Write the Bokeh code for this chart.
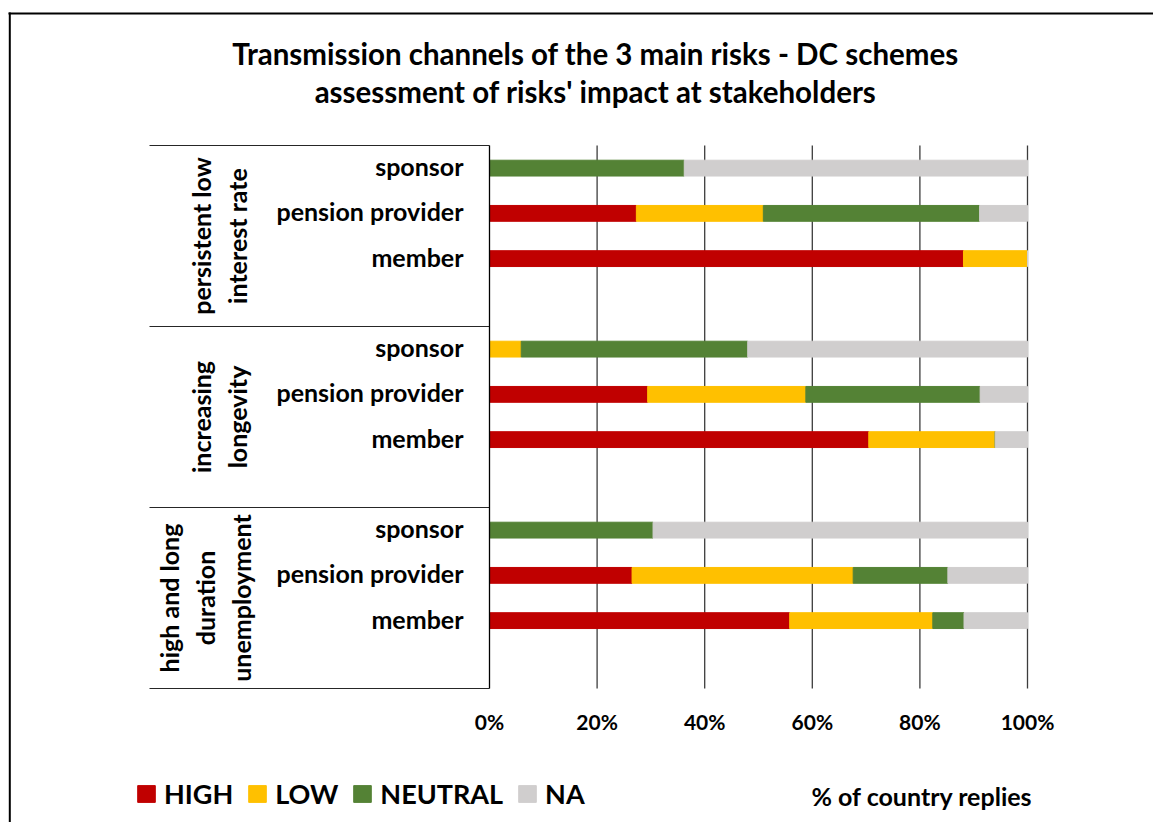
import math
from bokeh.plotting import figure
from bokeh.models import Range1d, ColumnDataSource, Legend, LegendItem
from bokeh.embed import file_html
from bokeh.resources import INLINE
from bokeh.core.properties import value

# ---------------- data ----------------
risks = ["persistent low\ninterest rate", "increasing\nlongevity",
         "high and long\nduration\nunemployment"]
stakeholders = ["sponsor", "pension provider", "member"]
levels = ["HIGH", "LOW", "NEUTRAL", "NA"]
# % of country replies, rows: risk x stakeholder (sponsor, pension provider, member)
high    = [0.0, 27.3, 88.1,   0.0, 29.4, 70.5,   0.0, 26.5, 55.8]
low     = [0.0, 23.6, 11.9,   5.9, 29.4, 23.5,   0.0, 41.1, 26.6]
neutral = [36.2, 40.2, 0.0,  42.1, 32.4, 0.0,   30.4, 17.6, 5.8]
na      = [63.8, 8.9, 0.0,   52.0, 8.8, 6.0,    69.6, 14.8, 11.8]
x_ticks = [0, 20, 40, 60, 80, 100]
x_tick_labels = ["0%", "20%", "40%", "60%", "80%", "100%"]
title_lines = ["Transmission channels of the 3 main risks - DC schemes",
               "assessment of risks' impact at stakeholders"]
note = "% of country replies"

# ---------------- style / layout ----------------
colors = ["#C00000", "#FFC000", "#548235", "#D0CECE"]
FONT = value("Lato")
W, H = 1153, 822
X0, PX_PER_PCT = 489.0, 5.38      # canvas x of 0 %, pixels per percent
Y0, SLOT = 145.0, 45.25           # canvas y of top of plot area, pixels per category slot


def X(px):
    return (px - X0) / PX_PER_PCT


def Y(py):
    return (py - Y0) / SLOT


n_groups = len(risks)
per_group = len(stakeholders) + 1          # one blank slot per group
n_slots = n_groups * per_group
rows = [g * per_group + s + 0.5 for g in range(n_groups) for s in range(len(stakeholders))]
row_labels = [s for _ in risks for s in stakeholders]
label_shift = 2.0 / SLOT                   # small optical lift of label text
group_centers = [g * per_group + per_group / 2 for g in range(n_groups)]
group_label_x = [X(218), X(218), X(204)]

p = figure(width=W, height=H, output_backend="svg", toolbar_location=None,
           x_range=Range1d(X(0), X(W)),
           y_range=Range1d(Y(H), Y(0)),
           x_axis_location=None, y_axis_location=None, min_border=0)
p.outline_line_color = None
p.grid.visible = False
p.background_fill_color = "white"
p.border_fill_color = "white"

# outer chart border (top and left visible)
p.segment(x0=[X(8), X(9.3)], y0=[Y(13), Y(12)], x1=[X(1200), X(9.3)], y1=[Y(13), Y(900)],
          line_color="black", line_width=2)

# vertical gridlines
p.segment(x0=x_ticks[1:], y0=[0] * 5, x1=x_ticks[1:], y1=[n_slots] * 5,
          line_color="#3c3c3c", line_width=1.3)

# group separators in category area
seps = [g * per_group for g in range(n_groups + 1)]
p.segment(x0=[X(149)] * len(seps), y0=seps, x1=[0] * len(seps), y1=seps,
          line_color="#262626", line_width=1.2)

# bars
src = ColumnDataSource(dict(y=rows, HIGH=high, LOW=low, NEUTRAL=neutral, NA=na))
rends = p.hbar_stack(levels, y="y", height=0.35, color=colors, source=src)

# value axis line
p.segment(x0=[0], y0=[0], x1=[0], y1=[n_slots], line_color="black", line_width=1.3)

# category labels
p.text(x=[X(463)] * len(rows), y=[r - label_shift for r in rows], text=row_labels,
       text_font=FONT, text_font_style="bold", text_font_size="25px", text_align="right",
       text_baseline="middle", text_color="black")

# group labels (rotated)
p.text(x=group_label_x, y=group_centers, text=risks, angle=math.pi / 2,
       text_font=FONT, text_font_style="bold", text_font_size="25px",
       text_align="center", text_baseline="middle", text_line_height=1.2,
       text_color="black")

# x tick labels
p.text(x=x_ticks, y=[Y(721)] * len(x_ticks), text=x_tick_labels, text_font=FONT,
       text_font_style="bold", text_font_size="21px", text_align="center",
       text_baseline="middle", text_color="black")

# title
p.text(x=[X(595)] * 2, y=[Y(53), Y(91)], text=title_lines, text_font=FONT,
       text_font_style="bold", text_font_size="29.5px", text_align="center",
       text_baseline="middle", text_color="black")

# note
p.text(x=[X(811)], y=[Y(795.5)], text=[note], text_font=FONT,
       text_font_style="bold", text_font_size="25px", text_align="left",
       text_baseline="middle", text_color="black")

legend = Legend(items=[LegendItem(label=l, renderers=[r]) for l, r in zip(levels, rends)],
                orientation="horizontal", location=(135, 12.5), spacing=13,
                glyph_width=22, glyph_height=21, label_standoff=7, padding=0, margin=0,
                border_line_color=None, background_fill_alpha=0,
                label_text_font="Lato", label_text_font_style="bold",
                label_text_font_size="27px", label_text_color="black")
p.add_layout(legend)

open("out.html", "w").write(file_html(p, INLINE))
